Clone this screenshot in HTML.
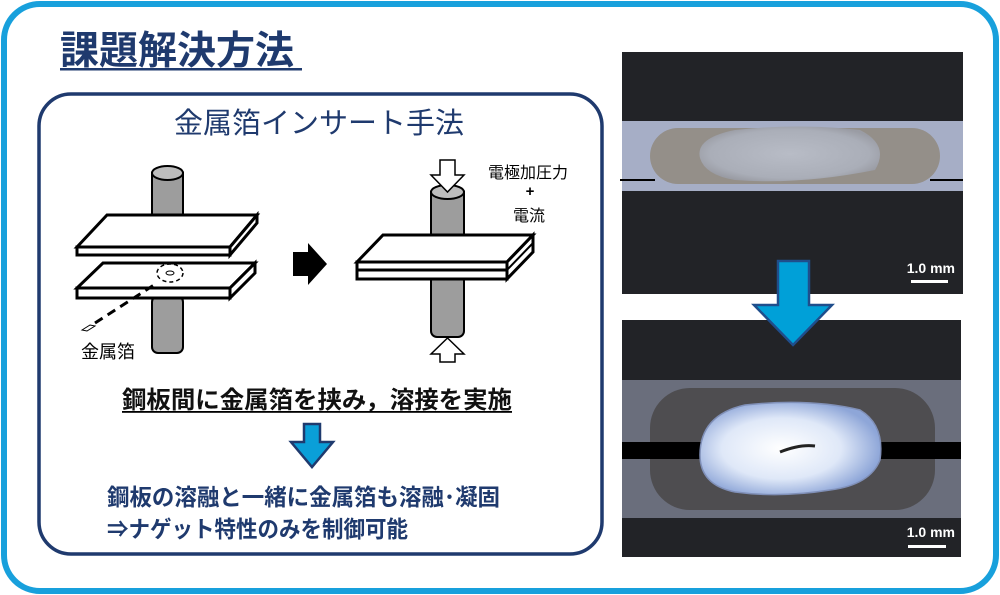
<!DOCTYPE html>
<html><head><meta charset="utf-8"><style>
html,body{margin:0;padding:0;background:#fff;}
svg{display:block;}
text{font-family:"Liberation Sans","Noto Sans CJK JP",sans-serif;}
</style></head><body>
<svg width="1000" height="595" viewBox="0 0 1000 595" xmlns="http://www.w3.org/2000/svg">
<defs>
<radialGradient id="nug2" cx="0.45" cy="0.5" r="0.55"><stop offset="0" stop-color="#ffffff"/><stop offset="0.6" stop-color="#dfe8f8"/><stop offset="1" stop-color="#8ea6d8"/></radialGradient>
<radialGradient id="nug1" cx="0.5" cy="0.5" r="0.55"><stop offset="0" stop-color="#b8bcc6"/><stop offset="0.8" stop-color="#aaaeb8"/><stop offset="1" stop-color="#9a9ca4"/></radialGradient>
</defs>
<rect x="4" y="4" width="992" height="587" rx="36" fill="#fff" stroke="#18a0dc" stroke-width="6"/>
<text x="60" y="64" font-size="39" fill="#1f3a6e" font-weight="bold">課題解決方法</text>
<rect x="60" y="68" width="242" height="2.5" fill="#1f3a6e"/>
<rect x="39" y="94" width="563" height="460" rx="32" fill="#fff" stroke="#1f3a6e" stroke-width="3.5"/>
<text x="319" y="133" font-size="29" fill="#1f3a6e" text-anchor="middle">金属箔インサート手法</text>

<!-- left diagram -->
<rect x="152" y="296" width="31" height="57" rx="6" fill="#9d9d9d" stroke="#000" stroke-width="2"/>
<polygon points="77,288 230,288 255,263 103,263" fill="#fff" stroke="#000" stroke-width="3"/>
<polygon points="77,288 230,288 230,298 77,298" fill="#fff" stroke="#000" stroke-width="3"/>
<polygon points="230,288 255,263 255,273 230,298" fill="#fff" stroke="#000" stroke-width="3"/>
<ellipse cx="170" cy="273" rx="13" ry="9" fill="none" stroke="#000" stroke-width="1.5" stroke-dasharray="4,3"/>
<ellipse cx="170" cy="273" rx="4" ry="2" fill="none" stroke="#000" stroke-width="1"/>
<line x1="95" y1="323" x2="157" y2="283" stroke="#000" stroke-width="3" stroke-dasharray="9,6"/>
<polygon points="82,330 90,325 95,326 87,331" fill="#fff" stroke="#000" stroke-width="1"/>
<rect x="152" y="173" width="31" height="66" fill="#9d9d9d" stroke="#000" stroke-width="2"/>
<ellipse cx="167.5" cy="173" rx="15.5" ry="7" fill="#bdbdbd" stroke="#000" stroke-width="2"/>
<polygon points="77,247 230,247 257,215 107,215" fill="#fff" stroke="#000" stroke-width="3"/>
<polygon points="77,247 230,247 230,255 77,255" fill="#fff" stroke="#000" stroke-width="3"/>
<polygon points="230,247 257,215 257,223 230,255" fill="#fff" stroke="#000" stroke-width="3"/>
<text x="81" y="358" font-size="18" fill="#000">金属箔</text>

<polygon points="293,252 308,252 308,243 327,264 308,285 308,276 293,276" fill="#000"/>

<!-- right diagram -->
<rect x="431" y="275" width="33" height="62" rx="6" fill="#9d9d9d" stroke="#000" stroke-width="2"/>
<rect x="431" y="192" width="33" height="58" fill="#9d9d9d" stroke="#000" stroke-width="2"/>
<ellipse cx="447.5" cy="192" rx="16.5" ry="7" fill="#bdbdbd" stroke="#000" stroke-width="2"/>
<polygon points="357,262 507,262 533,235 383,235" fill="#fff" stroke="#000" stroke-width="3"/>
<polygon points="357,262 507,262 507,279 357,279" fill="#fff" stroke="#000" stroke-width="3"/>
<line x1="357" y1="270" x2="507" y2="270" stroke="#000" stroke-width="3"/>
<polygon points="507,262 533,235 533,252 507,279" fill="#fff" stroke="#000" stroke-width="3"/>
<line x1="507" y1="270" x2="533" y2="243" stroke="#000" stroke-width="2"/>
<polygon points="440,160 455,160 455,175 464,175 447.5,192 431,175 440,175" fill="#fff" stroke="#000" stroke-width="1.5"/>
<polygon points="440,362 455,362 455,354 464,354 447.5,338 431,354 440,354" fill="#fff" stroke="#000" stroke-width="1.5"/>
<text x="488" y="178" font-size="16" fill="#000">電極加圧力</text>
<text x="530" y="196" font-size="15" fill="#000" text-anchor="middle" font-weight="bold">+</text>
<text x="529" y="221" font-size="16" fill="#000" text-anchor="middle">電流</text>

<text x="317" y="408" font-size="24" fill="#111" text-anchor="middle" font-weight="bold" textLength="390" lengthAdjust="spacingAndGlyphs">鋼板間に金属箔を挟み，溶接を実施</text>
<rect x="122" y="411" width="390" height="1.8" fill="#000"/>
<polygon points="304,424 320,424 320,442 333,442 312,467 291,442 304,442" fill="#0a9fd8" stroke="#1f3a6e" stroke-width="2.5"/>
<text x="107" y="505" font-size="23" fill="#1f3a6e" font-weight="bold" textLength="393" lengthAdjust="spacingAndGlyphs">鋼板の溶融と一緒に金属箔も溶融･凝固</text>
<text x="107" y="537" font-size="23" fill="#1f3a6e" font-weight="bold" textLength="301" lengthAdjust="spacingAndGlyphs">⇒ナゲット特性のみを制御可能</text>

<!-- photo 1 -->
<rect x="622" y="52" width="341" height="242" fill="#222327"/>
<rect x="622" y="121" width="341" height="70" fill="#a6aec6"/>
<rect x="650" y="128" width="290" height="56" rx="28" fill="#948f89"/>
<path d="M620,180 L655,180 M930,180 L963,180" stroke="#000" stroke-width="2"/>
<path d="M700,158 Q695,138 735,130 Q800,123 860,130 Q890,145 875,170 Q800,185 735,180 Q705,175 700,158Z" fill="url(#nug1)"/>
<text x="955" y="273" font-size="14" fill="#fff" text-anchor="end" font-weight="bold">1.0 mm</text>
<rect x="911" y="280" width="37" height="3" fill="#fff"/>

<!-- photo 2 -->
<rect x="622" y="320" width="339" height="237" fill="#222327"/>
<rect x="622" y="380" width="339" height="138" fill="#6a6e7c"/>
<rect x="650" y="388" width="285" height="122" rx="40" fill="#4e4d50"/>
<rect x="622" y="442" width="339" height="17" fill="#000"/>
<path d="M700,455 Q700,415 745,405 Q810,398 860,410 Q885,425 880,460 Q870,485 830,490 Q780,498 735,492 Q700,485 700,455Z" fill="url(#nug2)" stroke="#8090b8" stroke-width="1.5"/>
<path d="M780,452 Q800,444 815,446" stroke="#222" stroke-width="3" fill="none"/>
<text x="955" y="537" font-size="14" fill="#fff" text-anchor="end" font-weight="bold">1.0 mm</text>
<rect x="908" y="545" width="38" height="3" fill="#fff"/>

<!-- big blue arrow -->
<polygon points="778,261 809,261 809,305 832,305 793,345 754,305 778,305" fill="#00a0d8" stroke="#1f4e8c" stroke-width="2.5"/>
</svg>
</body></html>
